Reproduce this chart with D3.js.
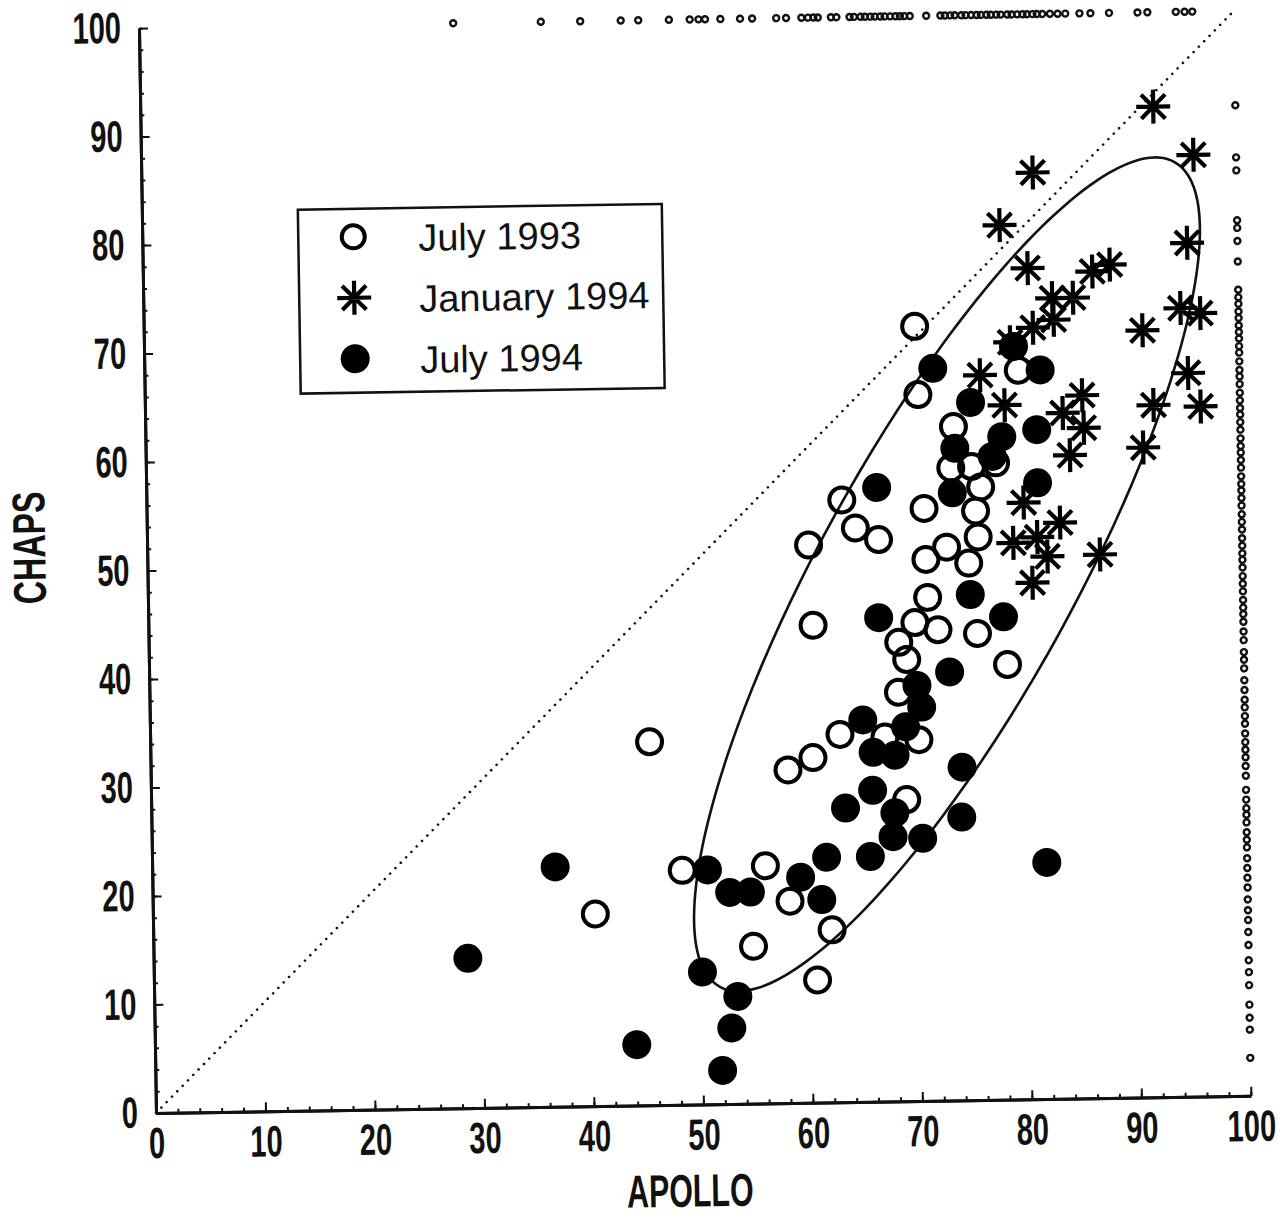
<!DOCTYPE html>
<html lang="en">
<head>
<meta charset="UTF-8">
<title>CHAPS vs APOLLO total cloud amount</title>
<style>
  body { margin: 0; background: #fff; }
  svg { display: block; }
  .axis path, .axis line { stroke: #111; }
  .axis path { stroke-width: 3; }
  .axis line { stroke-width: 2; }
  .axis text {
    font-family: "Liberation Sans", Arial, sans-serif;
    font-weight: bold;
    font-size: 44px;
    fill: #111;
  }
  .title {
    font-family: "Liberation Sans", Arial, sans-serif;
    font-weight: bold;
    font-size: 46px;
    fill: #111;
  }
  .legend text {
    font-family: "Liberation Sans", Arial, sans-serif;
    font-size: 38px;
    fill: #111;
  }
</style>
</head>
<body>
<div id="chart"></div>
<script src="https://d3js.org/d3.v7.min.js"></script>
<script>
// [APOLLO, CHAPS] pairs
const july1993 = [
  [70.4,71.4],[70.6,65.1],[71.0,54.6],[73.8,62.1],[73.5,58.3],[75.4,58.4],[77.6,58.7],
  [76.2,56.5],[75.7,54.3],[75.9,51.9],[73.0,51.0],[75.0,49.5],[71.1,49.9],[71.2,46.4],
  [70.0,44.1],[72.1,43.4],[75.7,43.0],[78.4,40.1],[68.5,42.3],[69.2,40.7],[68.4,37.7],
  [70.2,33.3],[67.1,33.6],[69.0,27.8],[63.5,55.5],[64.7,52.9],[66.8,51.8],[60.4,51.4],
  [60.7,44.0],[63.0,33.9],[60.5,31.8],[58.2,30.7],[45.6,33.5],[48.4,21.6],[40.4,17.7],
  [56.0,21.9],[58.2,18.6],[62.0,15.9],[54.8,14.5],[60.6,11.3],[79.8,67.2]
];
const jan1994 = [
  [92.5,91.3],[96.1,86.8],[81.4,85.4],[78.3,80.6],[95.4,78.7],[80.8,76.6],[88.3,76.8],
  [86.7,76.2],[83.0,73.8],[84.9,73.8],[83.1,71.8],[81.2,71.1],[91.2,70.7],[94.7,72.7],
  [96.5,72.2],[95.3,66.7],[76.3,66.8],[78.5,64.0],[85.6,64.8],[92.1,63.8],[96.4,63.6],
  [83.8,63.2],[85.7,61.8],[91.1,59.9],[84.4,59.3],[80.1,55.0],[83.4,53.1],[79.1,51.3],
  [81.3,51.8],[82.2,50.0],[80.8,47.6],[87.0,50.1],[79.1,69.8]
];
const july1994 = [
  [72.0,67.5],[75.4,64.3],[79.4,69.4],[81.8,67.2],[81.4,61.7],[78.2,61.1],[73.9,60.1],
  [77.3,59.3],[81.4,56.8],[73.6,56.0],[75.1,46.6],[78.1,44.5],[66.7,56.6],[66.7,44.6],
  [73.1,39.5],[70.1,38.3],[70.5,36.3],[65.1,35.2],[69.0,34.5],[66.0,32.2],[68.0,31.9],
  [65.9,28.7],[63.4,27.1],[67.9,26.6],[67.7,24.4],[70.4,24.2],[74.1,30.7],[74.0,26.1],
  [61.6,22.6],[65.6,22.6],[50.7,21.6],[59.2,20.8],[52.7,19.5],[54.6,19.5],[61.1,18.7],
  [81.7,21.8],[50.1,12.2],[53.3,9.9],[52.7,7.0],[51.8,3.1],[36.8,22.1],[28.7,13.8],[44.0,5.6]
];

// marginal rugs: APOLLO values along the top (CHAPS = 100), CHAPS values down the right (APOLLO = 100)
const rugTop = [
  28.7,36.7,40.3,44.0,45.6,48.4,50.3,51.1,51.7,53.1,54.9,56.0,58.2,59.1,60.5,61.1,61.6,62.0,
  63.2,63.7,64.9,65.3,65.9,66.3,66.8,67.2,67.7,68.1,68.6,69.1,69.5,69.9,70.4,71.9,73.2,73.6,
  74.1,74.5,75.1,75.5,76.0,76.5,76.9,77.4,77.8,78.3,78.7,79.3,79.7,80.2,80.7,81.1,81.6,82.0,
  82.5,83.2,83.9,84.6,85.9,86.9,88.6,91.2,92.1,94.7,95.5,96.2
];
const rugRight = [
  91.3,86.5,85.3,80.7,80.0,78.8,76.9,74.3,73.6,73.0,72.3,71.7,71.0,70.4,69.8,69.1,68.5,67.7,
  66.9,66.3,65.6,64.8,64.1,63.4,62.8,62.1,61.4,60.6,59.9,59.3,58.6,57.9,57.1,56.4,55.8,55.1,
  54.4,53.6,52.9,52.2,51.4,50.7,50.0,49.4,48.7,47.9,47.2,46.5,45.7,45.0,44.4,43.7,42.8,42.0,
  40.9,40.2,39.4,38.3,37.4,36.5,35.8,35.0,34.3,33.4,32.6,31.9,31.2,30.4,29.5,28.2,27.3,26.5,
  25.9,25.2,24.3,23.6,22.9,21.9,21.0,20.1,19.2,18.1,17.1,16.2,15.1,13.9,12.5,11.4,10.2,8.4,
  7.2,6.1,3.5
];

// fitted ellipse: centre, semi-axes (data units), tilt in degrees
const ellipseFit = [73, 48.5, 43.3, 11.6, 60.5];

const seriesNames = ["July 1993", "January 1994", "July 1994"];
const majorTicks = d3.range(0, 101, 10);
const minorTicks = d3.range(0, 101, 2);

const width = 1287, height = 1221;
const ox = 156, oy = 1113, pw = 1095, ph = 1085;

const svg = d3.select("#chart").append("svg")
  .attr("width", width)
  .attr("height", height);

svg.append("rect").attr("width", width).attr("height", height).attr("fill", "#fff");

// the scanned page is a little skewed
const g = svg.append("g")
  .attr("transform", `rotate(-0.9, ${ox}, ${oy}) translate(${ox}, ${oy - ph})`);

const x = d3.scaleLinear().domain([0, 100]).range([0, pw]);
const y = d3.scaleLinear().domain([0, 100]).range([ph, 0]);

// axes
g.append("g").attr("class", "axis").attr("transform", `translate(0,${ph})`)
  .call(d3.axisBottom(x).tickValues(minorTicks).tickSize(-4).tickSizeOuter(0).tickFormat(""));
const xAxis = g.append("g").attr("class", "axis").attr("transform", `translate(0,${ph})`)
  .call(d3.axisBottom(x).tickValues(majorTicks).tickSize(-9).tickSizeOuter(0).tickPadding(14));
xAxis.selectAll("text").attr("transform", "scale(0.66,1)");

g.append("g").attr("class", "axis")
  .call(d3.axisLeft(y).tickValues(minorTicks).tickSize(-4).tickSizeOuter(0).tickFormat(""));
const yAxis = g.append("g").attr("class", "axis")
  .call(d3.axisLeft(y).tickValues(majorTicks).tickSize(-9).tickSizeOuter(0));
yAxis.selectAll("text").attr("x", -18 / 0.66).attr("transform", "scale(0.66,1)");

g.append("text").attr("class", "title")
  .attr("text-anchor", "middle")
  .attr("transform", `translate(533,1187) scale(0.66,1)`)
  .text("APOLLO");

g.append("text").attr("class", "title")
  .attr("text-anchor", "middle")
  .attr("transform", `translate(-102,518) rotate(-90) scale(0.7,1)`)
  .text("CHAPS");

// 1:1 line
g.append("line")
  .attr("x1", x(0)).attr("y1", y(0))
  .attr("x2", x(100)).attr("y2", y(100))
  .attr("stroke", "#111")
  .attr("stroke-width", 2.6)
  .attr("stroke-linecap", "round")
  .attr("stroke-dasharray", "0.01 7.6");

// ellipse
const [ecx, ecy, ea, eb, edeg] = ellipseFit;
const et = edeg * Math.PI / 180;
const ellPts = d3.range(0, 360, 3).map(d => {
  const p = d * Math.PI / 180;
  const u = ea * Math.cos(p), v = eb * Math.sin(p);
  return [ecx + u * Math.cos(et) - v * Math.sin(et), ecy + u * Math.sin(et) + v * Math.cos(et)];
});
g.append("path")
  .attr("d", d3.line().x(d => x(d[0])).y(d => y(d[1])).curve(d3.curveCardinalClosed)(ellPts))
  .attr("fill", "none")
  .attr("stroke", "#111")
  .attr("stroke-width", 2.6);

// rugs
g.selectAll(".rugTop").data(rugTop).join("circle")
  .attr("class", "rugTop")
  .attr("cx", d => x(d)).attr("cy", y(100)).attr("r", 3)
  .attr("fill", "none").attr("stroke", "#111").attr("stroke-width", 2.4);
g.selectAll(".rugRight").data(rugRight).join("circle")
  .attr("class", "rugRight")
  .attr("cx", x(100)).attr("cy", d => y(d)).attr("r", 3)
  .attr("fill", "none").attr("stroke", "#111").attr("stroke-width", 2.4);

// markers
const star = s => {
  const k = s * 0.7071;
  return `M${-s},0H${s}M0,${-s}V${s}M${-k},${-k}L${k},${k}M${-k},${k}L${k},${-k}`;
};

g.selectAll(".jul94").data(july1994).join("circle")
  .attr("class", "jul94")
  .attr("cx", d => x(d[0])).attr("cy", d => y(d[1])).attr("r", 14.5)
  .attr("fill", "#000");

g.selectAll(".jul93").data(july1993).join("circle")
  .attr("class", "jul93")
  .attr("cx", d => x(d[0])).attr("cy", d => y(d[1])).attr("r", 12.5)
  .attr("fill", "none").attr("stroke", "#000").attr("stroke-width", 4);

g.selectAll(".jan94").data(jan1994).join("path")
  .attr("class", "jan94")
  .attr("transform", d => `translate(${x(d[0])},${y(d[1])})`)
  .attr("d", star(17))
  .attr("fill", "none").attr("stroke", "#000").attr("stroke-width", 4.2);

// legend
const legend = g.append("g").attr("class", "legend").attr("transform", "translate(156,184)");
legend.append("rect")
  .attr("width", 364).attr("height", 184)
  .attr("fill", "none").attr("stroke", "#111").attr("stroke-width", 2.5);

const rows = legend.selectAll(".row").data(seriesNames).join("g")
  .attr("class", "row")
  .attr("transform", (d, i) => `translate(55,${28 + i * 61})`);

rows.each(function(d, i) {
  const r = d3.select(this);
  if (i === 0) {
    r.append("circle").attr("r", 11.5).attr("fill", "none").attr("stroke", "#000").attr("stroke-width", 4);
  } else if (i === 1) {
    r.append("path").attr("d", star(17)).attr("fill", "none").attr("stroke", "#000").attr("stroke-width", 4.2);
  } else {
    r.append("circle").attr("r", 14.5).attr("fill", "#000");
  }
  r.append("text").attr("x", 65).attr("y", 15).text(d);
});
</script>
</body>
</html>
